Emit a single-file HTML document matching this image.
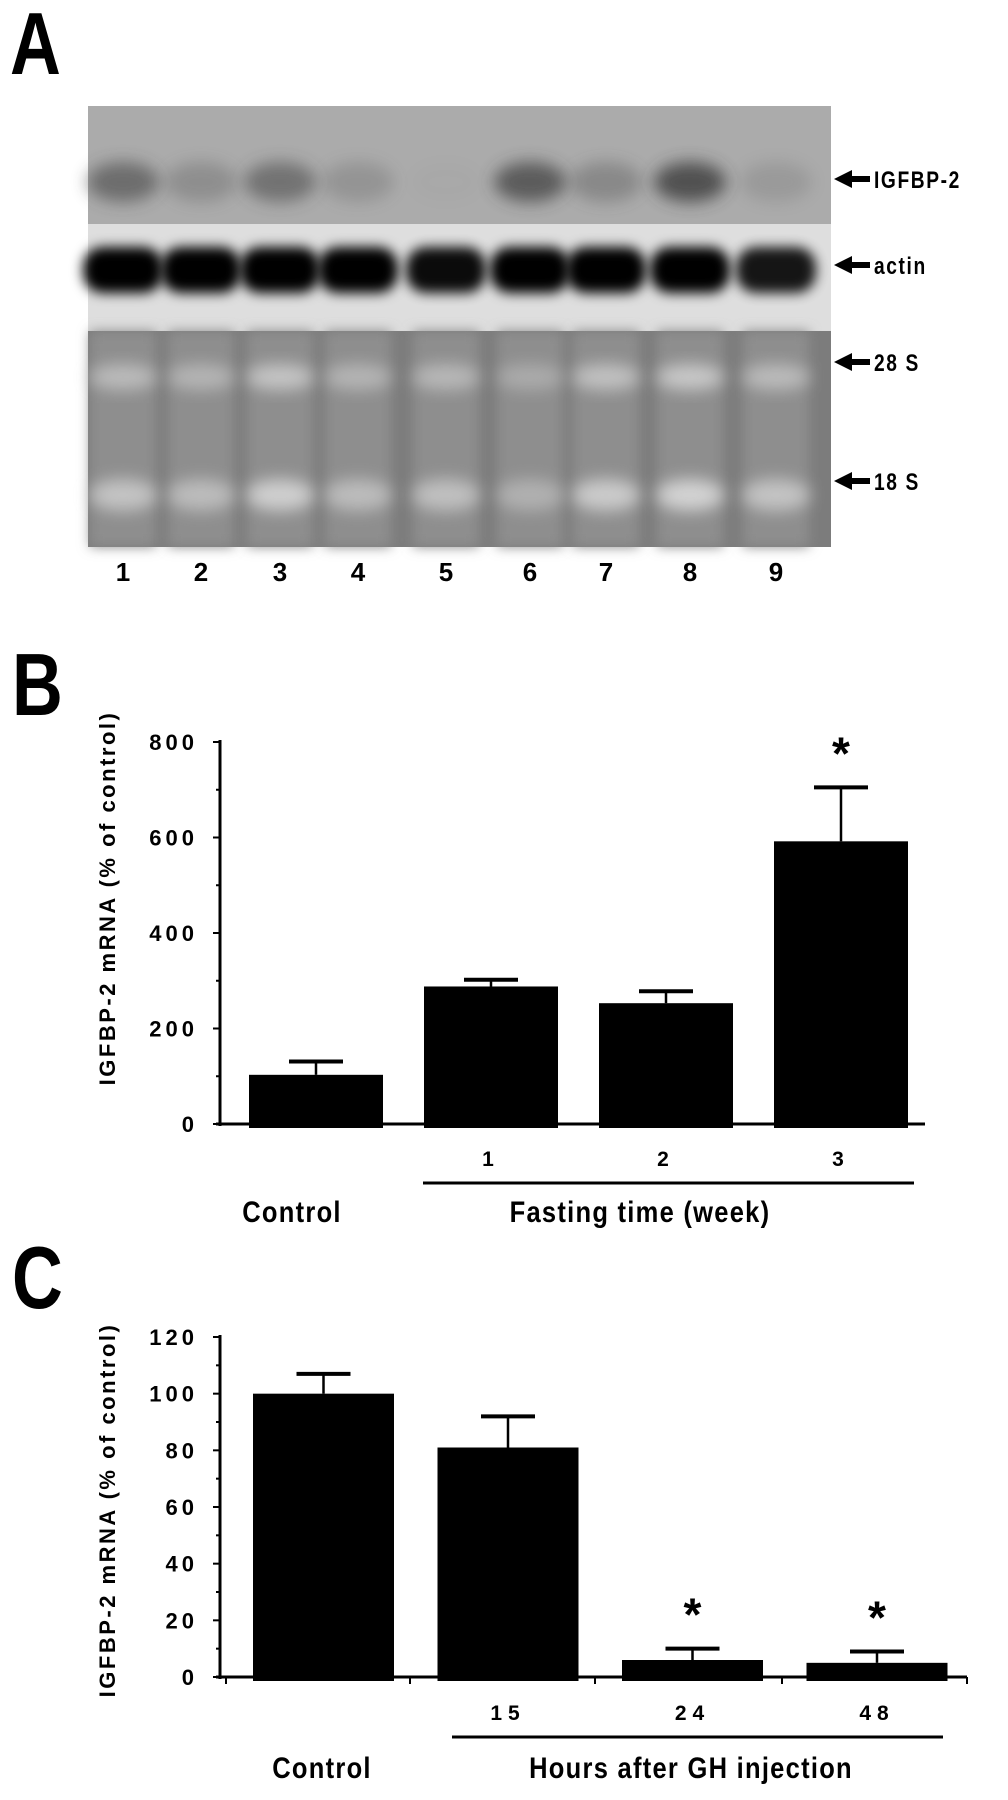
<!DOCTYPE html>
<html><head><meta charset="utf-8"><style>
html,body{margin:0;padding:0;background:#fff;}
svg{display:block;}
text{font-family:"Liberation Sans Narrow","Liberation Sans",sans-serif;font-weight:bold;fill:#000;}
</style></head><body>
<svg id="fig" width="1008" height="1800" viewBox="0 0 1008 1800" xmlns="http://www.w3.org/2000/svg">
<defs>
<filter id="blur4" x="-50%" y="-50%" width="200%" height="200%"><feGaussianBlur stdDeviation="4"/></filter>
<filter id="blur6" x="-50%" y="-50%" width="200%" height="200%"><feGaussianBlur stdDeviation="6"/></filter>
<filter id="blur8" x="-50%" y="-50%" width="200%" height="200%"><feGaussianBlur stdDeviation="8"/></filter>
</defs>
<text x="0" y="0" font-size="88" transform="translate(10,74) scale(0.8,1)">A</text>
<g id="blot">
<rect x="88" y="106" width="743" height="118" fill="#ababab"/>
<rect x="88" y="224" width="743" height="107" fill="#dedede"/>
<rect x="88" y="331" width="743" height="216" fill="#7c7c7c"/>
<g id="bands"></g>
</g>
<g id="blotLabels"></g>
<text x="0" y="0" font-size="88" transform="translate(12,715) scale(0.8,1)">B</text>
<g id="chartB"></g>
<text x="0" y="0" font-size="88" transform="translate(12,1308) scale(0.8,1)">C</text>
<g id="chartC"></g>
</svg>
<script>
const NS="http://www.w3.org/2000/svg";
function mk(p,tag,attrs,txt){const e=document.createElementNS(NS,tag);for(const k in attrs)e.setAttribute(k,attrs[k]);if(txt!==undefined)e.textContent=txt;p.appendChild(e);return e;}

// Blot data
const laneLabels=["1","2","3","4","5","6","7","8","9"];
const laneX=[123,201,280,358,446,530,606,690,776];
const igfbpIntensity=[0.55,0.25,0.5,0.2,0.02,0.7,0.3,0.8,0.15];
const actinIntensity=[1,1,1,1,0.95,1,1,1,0.9];
const rrnaIntensity=[0.7,0.6,0.85,0.6,0.65,0.45,0.8,0.9,0.7];
const markerNames=["IGFBP-2","actin","28 S","18 S"];
const markerY=[179,265,362,481];

const bands=document.getElementById('bands');
laneLabels.forEach((l,i)=>{
  const x=laneX[i];
  let e=mk(bands,'rect',{x:x-33,y:331,width:66,height:216,fill:'#8e8e8e',filter:'url(#blur6)'});
  
  e=mk(bands,'ellipse',{cx:x,cy:182,rx:36,ry:20,fill:'#3a3a3a',opacity:igfbpIntensity[i],filter:'url(#blur8)'});
  
  e=mk(bands,'rect',{x:x-40,y:247,width:80,height:46,rx:20,fill:'#060606',opacity:actinIntensity[i],filter:'url(#blur6)'});
  
  e=mk(bands,'ellipse',{cx:x,cy:377,rx:34,ry:13,fill:'#cfcfcf',opacity:rrnaIntensity[i],filter:'url(#blur8)'});
  
  e=mk(bands,'ellipse',{cx:x,cy:495,rx:34,ry:16,fill:'#dadada',opacity:rrnaIntensity[i],filter:'url(#blur8)'});
  
  e=mk(document.getElementById('blotLabels'),'text',{x:x,y:581,'font-size':26,'text-anchor':'middle'},l);
  
});
markerNames.forEach((n,i)=>{
  const y=markerY[i];const g=document.getElementById('blotLabels');
  let e=mk(g,'path',{d:`M834 ${y} L852 ${y-9} L852 ${y-3} L870 ${y-3} L870 ${y+3} L852 ${y+3} L852 ${y+9} Z`,fill:'#000'});
  
  e=mk(g,'text',{x:0,y:0,'font-size':24,'letter-spacing':'2',transform:`translate(874,${y+9}) scale(0.8,1)`},n);
  
});

// Chart B data
const bCats=["Control","1","2","3"];
const bVals=[103,288,253,592];
const bErr=[28,14,25,113];
const bSig=[false,false,false,true];
const bTicks=[0,200,400,600,800];
const bMinor=[100,300,500,700];

// Chart C data
const cCats=["Control","15","24","48"];
const cVals=[100,81,6,5];
const cErr=[7,11,4,4];
const cSig=[false,false,true,true];
const cTicks=[0,20,40,60,80,100,120];
const cMinor=[10,30,50,70,90,110];

function chart(gid,o){
  const g=document.getElementById(gid);
  const y=v=>o.y0-(v-o.vmin)/(o.vmax-o.vmin)*(o.y0-o.y1);
  let e=mk(g,'line',{x1:o.ax,y1:o.y1-2,x2:o.ax,y2:o.y0+2,stroke:'#000','stroke-width':3});
  
  e=mk(g,'line',{x1:o.ax-4,y1:o.y0,x2:o.xend,y2:o.y0,stroke:'#000','stroke-width':3});
  
  o.ticks.forEach(t=>{
    e=mk(g,'line',{x1:o.ax-7,y1:y(t),x2:o.ax,y2:y(t),stroke:'#000','stroke-width':2});
    
    e=mk(g,'text',{x:o.ax-22,y:y(t)+8,'font-size':22,'text-anchor':'end','letter-spacing':'4'},String(t));
    
  });
  o.minor.forEach(t=>{
    e=mk(g,'line',{x1:o.ax-4,y1:y(t),x2:o.ax,y2:y(t),stroke:'#000','stroke-width':2});
    
  });
  if(o.xticks){o.xticks.forEach((xt,i)=>{
    e=mk(g,'line',{x1:xt,y1:o.y0,x2:xt,y2:o.y0+7,stroke:'#000','stroke-width':2});
    
  });}
  o.cats.forEach((c,i)=>{
    const bx=o.bx0+i*o.step, cx=bx+o.bw/2, top=y(o.vals[i]), et=y(o.vals[i]+o.err[i]);
    e=mk(g,'line',{x1:cx,y1:et,x2:cx,y2:top,stroke:'#000','stroke-width':2.5});
    
    e=mk(g,'line',{x1:cx-27,y1:et,x2:cx+27,y2:et,stroke:'#000','stroke-width':4});
    
    e=mk(g,'rect',{x:bx,y:top,width:o.bw,height:o.y0-top+4,fill:'#000'});
    
    if(o.sig[i]){e=mk(g,'text',{x:cx,y:et-18,'font-size':46,'text-anchor':'middle','font-weight':'normal'},'*');
      }
    if(i>0){e=mk(g,'text',{x:cx,y:o.catY,'font-size':21,'text-anchor':'middle','letter-spacing':'6'},c);
      }
  });
  e=mk(g,'line',{x1:o.lineX[0],y1:o.lineY,x2:o.lineX[1],y2:o.lineY,stroke:'#000','stroke-width':3});
  
  e=mk(g,'text',{x:0,y:0,'font-size':30,'text-anchor':'middle','letter-spacing':'1.5',transform:`translate(${o.ctlX},${o.labY}) scale(0.85,1)`},'Control');
  
  e=mk(g,'text',{x:0,y:0,'font-size':30,'text-anchor':'middle','letter-spacing':'1.5',transform:`translate(${o.grpX},${o.labY}) scale(0.85,1)`},o.grp);
  
  e=mk(g,'text',{x:0,y:0,'font-size':22,'text-anchor':'middle','letter-spacing':'2.5',transform:`translate(${o.titleX},${o.titleY}) rotate(-90)`},'IGFBP-2 mRNA (% of control)');
  
}
chart('chartB',{ax:220,y0:1124,y1:742,vmin:0,vmax:800,xend:925,ticks:bTicks,minor:bMinor,cats:bCats,vals:bVals,err:bErr,sig:bSig,
  bx0:249,step:175,bw:134,catY:1166,lineX:[423,914],lineY:1183,ctlX:292,grpX:640,labY:1222,grp:'Fasting time (week)',titleX:115,titleY:898});
chart('chartC',{ax:220,y0:1677,y1:1337,vmin:0,vmax:120,xend:967,ticks:cTicks,minor:cMinor,cats:cCats,vals:cVals,err:cErr,sig:cSig,
  bx0:253,step:184.5,bw:141,catY:1720,xticks:[226,410,595,782,967],lineX:[452,943],lineY:1737,ctlX:322,grpX:691,labY:1778,grp:'Hours after GH injection',titleX:115,titleY:1510});
</script>
</body></html>
